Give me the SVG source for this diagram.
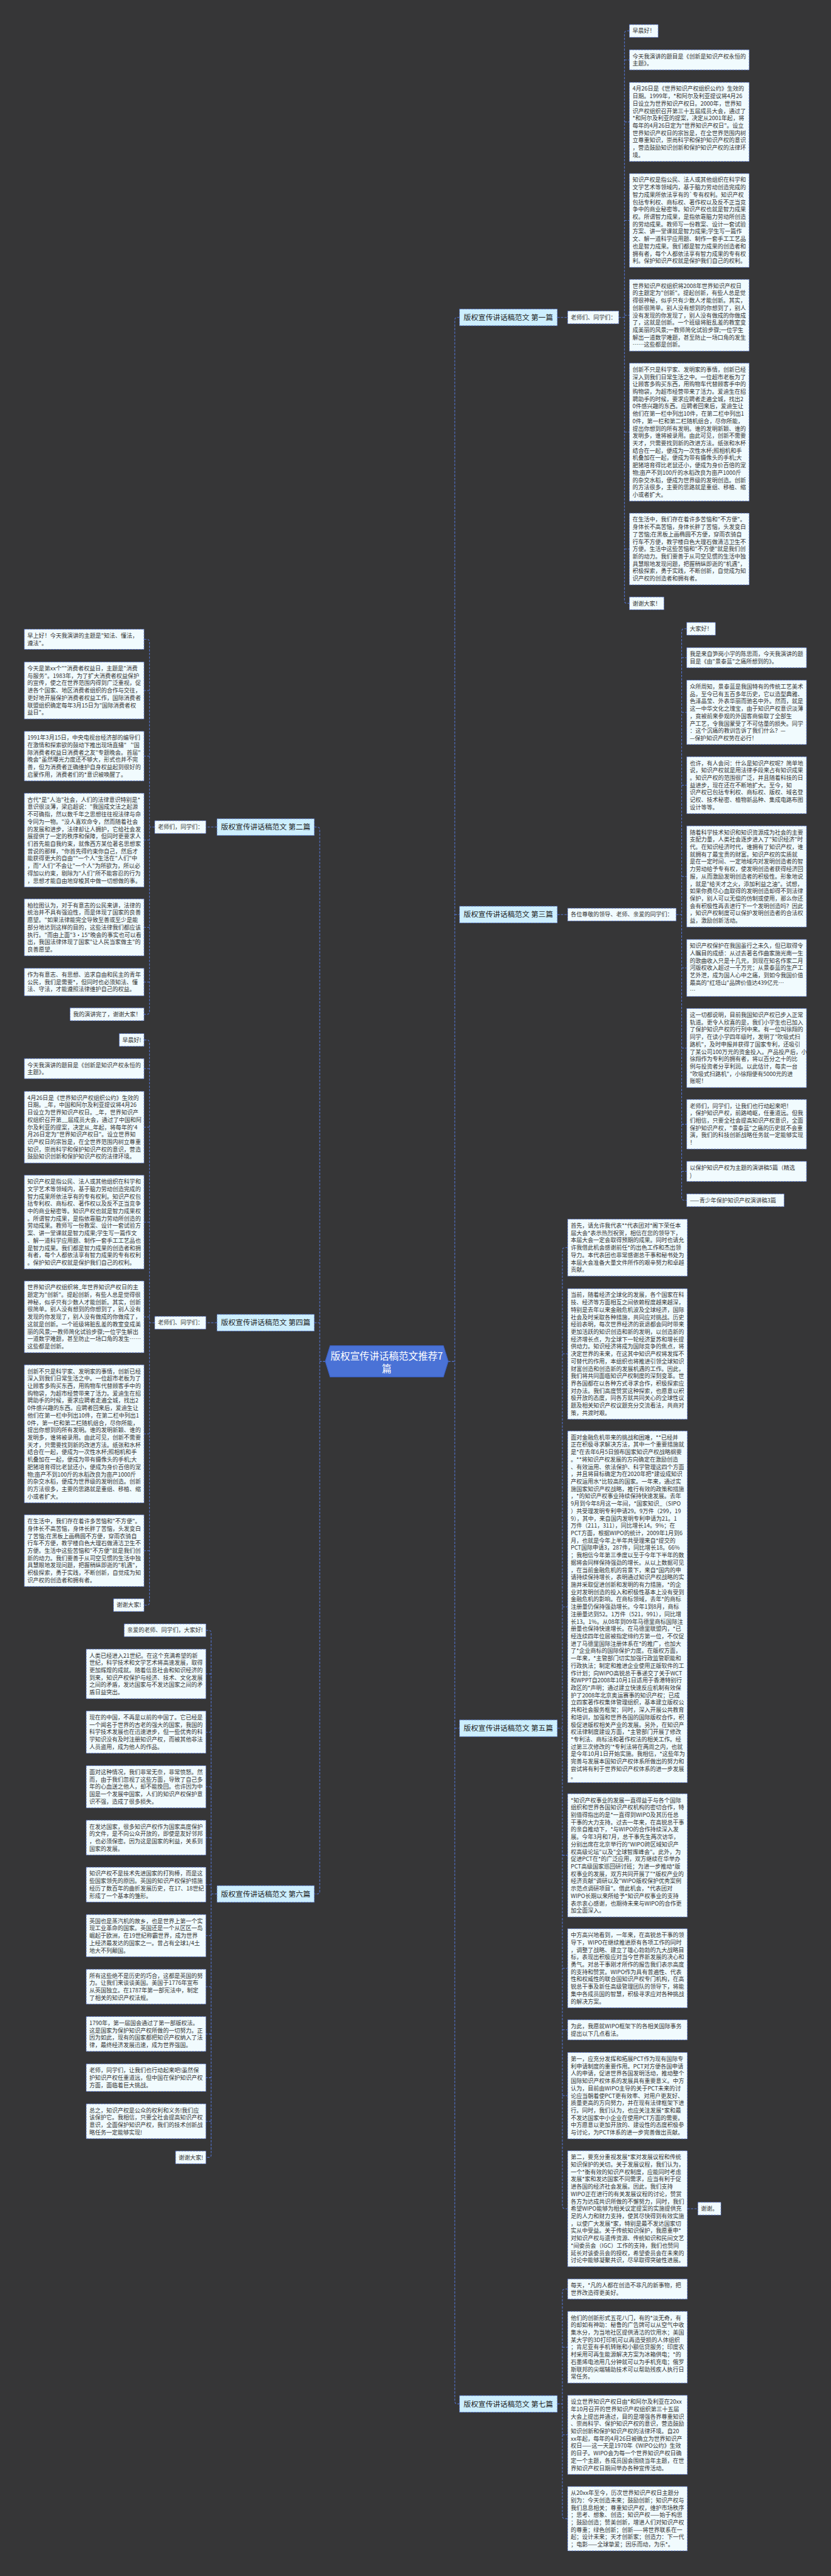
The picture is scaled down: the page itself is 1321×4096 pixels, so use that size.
<svg xmlns="http://www.w3.org/2000/svg" width="1321" height="4096" viewBox="0 0 1321 4096">
<style>
.bx{fill:#f1fbfe;stroke:#4f6fd0;stroke-width:1.6;stroke-dasharray:6 3}
.lb{fill:#cdeffe;stroke:#4f6fd0;stroke-width:1.6;stroke-dasharray:6 3}
.t{font-family:"Noto Sans CJK SC","Noto Sans",sans-serif;font-size:17.5px;fill:#333}
.lt{font-family:"Noto Sans CJK SC","Noto Sans",sans-serif;font-size:22.5px;fill:#222;text-anchor:middle}
.ct{font-family:"Noto Sans CJK SC","Noto Sans",sans-serif;font-size:30px;fill:#fff;text-anchor:middle}
.cn{fill:none;stroke:#5577d8;stroke-width:2;stroke-dasharray:7 4}
</style>
<rect width="1321" height="4096" fill="#363637"/>
<g transform="scale(0.516)">
<g id="connectors" class="cn">
<path d="M1381,4195H1401M1415.6,978H1409Q1401,978 1401,986V7400Q1401,7407.7 1409,7407.7H1415.6M1401,2818.3H1415.6M1401,5325.7H1415.6"/>
<path d="M1002,4195H985M968.3,2548.6H977Q985,2548.6 985,2556.6V5828Q985,5836.3 977,5836.3H968.3M968.3,4076H985"/>
<path d="M1717,978H1748.8M1906.3,978H1923.8M1939,95.1H1931.8Q1923.8,95.1 1923.8,103.1V1851.2Q1923.8,1859.2 1931.8,1859.2H1939M1923.8,184.4H1939M1923.8,375.7H1939M1923.8,679.3H1939M1923.8,971.5H1939M1923.8,1331.6H1939M1923.8,1691.8H1939"/>
<path d="M1717,2818.3H1748.8M2083,2818.3H2100M2115.6,1937.6H2108Q2100,1937.6 2100,1945.6V3690.6Q2100,3698.6 2108,3698.6H2115.6M2100,2026.8H2115.6M2100,2195.1H2115.6M2100,2419.5H2115.6M2100,2700.9H2115.6M2100,2982.7H2115.6M2100,3229.5H2115.6M2100,3464.4H2115.6M2100,3609.7H2115.6"/>
<path d="M1717,5325.7H1732.5M1748.8,3844.6H1740.5Q1732.5,3844.6 1732.5,3852.6V6798.1Q1732.5,6806.1 1740.5,6806.1H1748.8M1732.5,4172.2H1748.8M1732.5,4951.4H1748.8M1732.5,5717.3H1748.8M1732.5,6065.2H1748.8M1732.5,6255H1748.8M1732.5,6457.8H1748.8M2117.5,6806.1H2150"/>
<path d="M1717,7407.7H1732.5M1748.8,7053.8H1740.5Q1732.5,7053.8 1732.5,7061.8V7753.4Q1732.5,7761.4 1740.5,7761.4H1748.8M1732.5,7232.9H1748.8M1732.5,7503H1748.8"/>
<path d="M668.5,2548.6H634.3M476.7,2548.6H460.5M443.7,1970H452.5Q460.5,1970 460.5,1978V3117.7Q460.5,3125.7 452.5,3125.7H443.7M460.5,2127.7H443.7M460.5,2330H443.7M460.5,2588.8H443.7M460.5,2857.7H443.7M460.5,3026.2H443.7"/>
<path d="M668.5,4076H634.3M476.7,4076H460.5M443.7,3204.7H452.5Q460.5,3204.7 460.5,3212.7V4938.2Q460.5,4946.2 452.5,4946.2H443.7M460.5,3293H443.7M460.5,3473.5H443.7M460.5,3766H443.7M460.5,4058H443.7M460.5,4418.4H443.7M460.5,4778.5H443.7"/>
<path d="M668.5,5836.3H650.5M634.3,5023.7H642.5Q650.5,5023.7 650.5,5031.7V6640Q650.5,6648 642.5,6648H634.3M650.5,5158.2H634.3M650.5,5337.6H634.3M650.5,5506H634.3M650.5,5662.7H634.3M650.5,5807.6H634.3M650.5,5964.8H634.3M650.5,6122H634.3M650.5,6267.7H634.3M650.5,6402.4H634.3M650.5,6536.7H634.3"/>
</g>
<g id="center">
<polygon points="1017,4147 1366,4147 1381,4195 1366,4243 1017,4243 1002,4195" fill="#4a72d6" stroke="#3a5fc4" stroke-width="2"/>
<text class="ct" x="1191.5" y="4189">版权宣传讲话稿范文推荐7</text>
<text class="ct" x="1191.5" y="4228">篇</text>
</g>
<g id="p1"><rect class="lb" x="1415.6" y="952.3" width="301.3" height="51.4"/><text class="lt" x="1566" y="986.1">版权宣传讲话稿范文 第一篇</text></g>
<g id="p1s"><rect class="bx" x="1748.8" y="958.4" width="157.5" height="39.3"/><text class="t" x="1758.3" y="984.3">老师们、同学们：</text></g>
<g id="p1b1"><rect class="bx" x="1939" y="75.7" width="88.5" height="39.3"/><text class="t" x="1948.5" y="101.7">早晨好！</text></g>
<g id="p1b2"><rect class="bx" x="1939" y="153.4" width="369" height="62"/><text class="t" x="1948.5" y="179.4"><tspan x="1948.5">今天我演讲的题目是《创新是知识产权永恒的</tspan><tspan x="1948.5" dy="22.7">主题》。</tspan></text></g>
<g id="p1b3"><rect class="bx" x="1939" y="253.9" width="369" height="243.6"/><text class="t" x="1948.5" y="279.9"><tspan x="1948.5">4月26日是《世界知识产权组织公约》生效的</tspan><tspan x="1948.5" dy="22.7">日期。1999年，*和阿尔及利亚提议将4月26</tspan><tspan x="1948.5" dy="22.7">日设立为世界知识产权日。2000年，世界知</tspan><tspan x="1948.5" dy="22.7">识产权组织召开第三十五届成员大会，通过了</tspan><tspan x="1948.5" dy="22.7">*和阿尔及利亚的提案，决定从2001年起，将</tspan><tspan x="1948.5" dy="22.7">每年的4月26日定为"世界知识产权日"。设立</tspan><tspan x="1948.5" dy="22.7">世界知识产权日的宗旨是，在全世界范围内树</tspan><tspan x="1948.5" dy="22.7">立尊重知识，崇尚科学和保护知识产权的意识</tspan><tspan x="1948.5" dy="22.7">，营造鼓励知识创新和保护知识产权的法律环</tspan><tspan x="1948.5" dy="22.7">境。</tspan></text></g>
<g id="p1b4"><rect class="bx" x="1939" y="534.8" width="369" height="289"/><text class="t" x="1948.5" y="560.8"><tspan x="1948.5">知识产权是指公民、法人或其他组织在科学和</tspan><tspan x="1948.5" dy="22.7">文学艺术等领域内，基于脑力劳动创造完成的</tspan><tspan x="1948.5" dy="22.7">智力成果所依法享有的`专有权利。知识产权</tspan><tspan x="1948.5" dy="22.7">包括专利权、商标权、著作权以及反不正当竞</tspan><tspan x="1948.5" dy="22.7">争中的商业秘密等。知识产权也就是智力成果</tspan><tspan x="1948.5" dy="22.7">权。所谓智力成果，是指依靠脑力劳动所创造</tspan><tspan x="1948.5" dy="22.7">的劳动成果。教师写一份教案、设计一套试验</tspan><tspan x="1948.5" dy="22.7">方案、讲一堂课就是智力成果;学生写一篇作</tspan><tspan x="1948.5" dy="22.7">文、解一道科学应用题、制作一套手工工艺品</tspan><tspan x="1948.5" dy="22.7">也是智力成果。我们都是智力成果的创造者和</tspan><tspan x="1948.5" dy="22.7">拥有者，每个人都依法享有智力成果的专有权</tspan><tspan x="1948.5" dy="22.7">利。保护知识产权就是保护我们自己的权利。</tspan></text></g>
<g id="p1b5"><rect class="bx" x="1939" y="861" width="369" height="220.9"/><text class="t" x="1948.5" y="887"><tspan x="1948.5">世界知识产权组织将2008年世界知识产权日</tspan><tspan x="1948.5" dy="22.7">的主题定为"创新"。提起创新，有些人总是觉</tspan><tspan x="1948.5" dy="22.7">得很神秘，似乎只有少数人才能创新。其实，</tspan><tspan x="1948.5" dy="22.7">创新很简单。别人没有想到的你想到了，别人</tspan><tspan x="1948.5" dy="22.7">没有发现的你发现了，别人没有做成的你做成</tspan><tspan x="1948.5" dy="22.7">了，这就是创新。一个班级将脏乱差的教室变</tspan><tspan x="1948.5" dy="22.7">成美丽的风景;一教师简化试验步骤;一位学生</tspan><tspan x="1948.5" dy="22.7">解出一道数学难题，甚至防止一场口角的发生</tspan><tspan x="1948.5" dy="22.7">……这些都是创新。</tspan></text></g>
<g id="p1b6"><rect class="bx" x="1939" y="1119" width="369" height="425.2"/><text class="t" x="1948.5" y="1145"><tspan x="1948.5">创新不只是科学家、发明家的事情，创新已经</tspan><tspan x="1948.5" dy="22.7">深入到我们日常生活之中。一位超市老板为了</tspan><tspan x="1948.5" dy="22.7">让顾客多购买东西，用购物车代替顾客手中的</tspan><tspan x="1948.5" dy="22.7">购物袋，为超市经营带来了活力。爱迪生在招</tspan><tspan x="1948.5" dy="22.7">聘助手的时候，要求应聘者走遍全城，找出2</tspan><tspan x="1948.5" dy="22.7">0件感兴趣的东西。应聘者回来后，爱迪生让</tspan><tspan x="1948.5" dy="22.7">他们在第一栏中列出10件，在第二栏中列出1</tspan><tspan x="1948.5" dy="22.7">0件，第一栏和第二栏随机组合，尽你所能，</tspan><tspan x="1948.5" dy="22.7">提出你想到的所有发明。谁的发明新颖、谁的</tspan><tspan x="1948.5" dy="22.7">发明多，谁将被录用。由此可见，创新不需要</tspan><tspan x="1948.5" dy="22.7">天才，只需要找到新的改进方法。纸张和水杯</tspan><tspan x="1948.5" dy="22.7">结合在一起，便成为一次性水杯;照相机和手</tspan><tspan x="1948.5" dy="22.7">机叠加在一起，便成为带有摄像头的手机;大</tspan><tspan x="1948.5" dy="22.7">肥猪培育得比老鼠还小，便成为身价百倍的宠</tspan><tspan x="1948.5" dy="22.7">物;亩产不到100斤的水稻改良为亩产1000斤</tspan><tspan x="1948.5" dy="22.7">的杂交水稻，便成为世界级的发明创造。创新</tspan><tspan x="1948.5" dy="22.7">的方法很多，主要的思路就是重组、移植、缩</tspan><tspan x="1948.5" dy="22.7">小或者扩大。</tspan></text></g>
<g id="p1b7"><rect class="bx" x="1939" y="1581.4" width="369" height="220.9"/><text class="t" x="1948.5" y="1607.4"><tspan x="1948.5">在生活中，我们存在着许多苦恼和"不方便"。</tspan><tspan x="1948.5" dy="22.7">身体长不高苦恼，身体长胖了苦恼，头发变白</tspan><tspan x="1948.5" dy="22.7">了苦恼;在黑板上画椭圆不方便，穿雨衣骑自</tspan><tspan x="1948.5" dy="22.7">行车不方便，教学楼白色大理石做清洁卫生不</tspan><tspan x="1948.5" dy="22.7">方便。生活中这些苦恼和"不方便"就是我们创</tspan><tspan x="1948.5" dy="22.7">新的动力。我们要善于从司空见惯的生活中独</tspan><tspan x="1948.5" dy="22.7">具慧眼地发现问题，把握稍纵即逝的"机遇"，</tspan><tspan x="1948.5" dy="22.7">积极探索，勇于实践，不断创新，自觉成为知</tspan><tspan x="1948.5" dy="22.7">识产权的创造者和拥有者。</tspan></text></g>
<g id="p1b8"><rect class="bx" x="1939" y="1839.6" width="106.5" height="39.3"/><text class="t" x="1948.5" y="1865.6">谢谢大家！</text></g>
<g id="p3"><rect class="lb" x="1415.6" y="2792.6" width="301.3" height="51.4"/><text class="lt" x="1566" y="2826.4">版权宣传讲话稿范文 第三篇</text></g>
<g id="p3s"><rect class="bx" x="1748.8" y="2798.7" width="334.2" height="39.3"/><text class="t" x="1758.3" y="2824.6">各位尊敬的领导、老师、亲爱的同学们：</text></g>
<g id="p3b1"><rect class="bx" x="2115.6" y="1918" width="88.5" height="39.3"/><text class="t" x="2125.1" y="1944">大家好！</text></g>
<g id="p3b2"><rect class="bx" x="2115.6" y="1995.8" width="369" height="62"/><text class="t" x="2125.1" y="2021.8"><tspan x="2125.1">我是来自笋岗小学的陈思雨，今天我演讲的题</tspan><tspan x="2125.1" dy="22.7">目是《由"景泰蓝"之痛所想到的》。</tspan></text></g>
<g id="p3b3"><rect class="bx" x="2115.6" y="2096" width="369" height="198.2"/><text class="t" x="2125.1" y="2122"><tspan x="2125.1">众所周知，景泰蓝是我国特有的传统工艺美术</tspan><tspan x="2125.1" dy="22.7">品，至今已有五百多年历史，它以造型典雅、</tspan><tspan x="2125.1" dy="22.7">色泽晶莹、外表华丽而驰名中外。然而，就是</tspan><tspan x="2125.1" dy="22.7">这一中华文化之瑰宝，由于知识产权意识淡薄</tspan><tspan x="2125.1" dy="22.7">，竟被前来参观的外国客商偷取了全部生</tspan><tspan x="2125.1" dy="22.7">产工艺，令我国蒙受了不可估量的损失。同学</tspan><tspan x="2125.1" dy="22.7">：这个沉痛的教训告诉了我们什么？—</tspan><tspan x="2125.1" dy="22.7">—保护知识产权势在必行！</tspan></text></g>
<g id="p3b4"><rect class="bx" x="2115.6" y="2331.8" width="369" height="175.5"/><text class="t" x="2125.1" y="2357.8"><tspan x="2125.1">也许，有人会问：什么是知识产权呢？简单地</tspan><tspan x="2125.1" dy="22.7">说，知识产权就是用法律手段来占有知识成果</tspan><tspan x="2125.1" dy="22.7">。知识产权的范围很广泛，并且随着科技的日</tspan><tspan x="2125.1" dy="22.7">益进步，现在还在不断地扩大。至今，知</tspan><tspan x="2125.1" dy="22.7">识产权已包括专利权、商标权、版权、域名登</tspan><tspan x="2125.1" dy="22.7">记权、技术秘密、植物新品种、集成电路布图</tspan><tspan x="2125.1" dy="22.7">设计等等。</tspan></text></g>
<g id="p3b5"><rect class="bx" x="2115.6" y="2545" width="369" height="311.7"/><text class="t" x="2125.1" y="2571"><tspan x="2125.1">随着科学技术知识和知识资源成为社会的主要</tspan><tspan x="2125.1" dy="22.7">支配力量，人类社会逐步进入了"知识经济"时</tspan><tspan x="2125.1" dy="22.7">代。在知识经济时代，谁拥有了知识产权，谁</tspan><tspan x="2125.1" dy="22.7">就拥有了最宝贵的财富。知识产权的实质就</tspan><tspan x="2125.1" dy="22.7">是在一定时间、一定地域内对发明创造者的智</tspan><tspan x="2125.1" dy="22.7">力劳动给予专有权，使发明创造者获得经济回</tspan><tspan x="2125.1" dy="22.7">报，从而激励发明创造者的积极性。形象地说</tspan><tspan x="2125.1" dy="22.7">，就是"给天才之火，添加利益之油"。试想，</tspan><tspan x="2125.1" dy="22.7">如果你费尽心血取得的发明创造却得不到法律</tspan><tspan x="2125.1" dy="22.7">保护，别人可以无偿的仿制或使用，那么你还</tspan><tspan x="2125.1" dy="22.7">会有积极性再去进行下一个发明创造吗？因此</tspan><tspan x="2125.1" dy="22.7">，知识产权制度可以保护发明创造者的合法权</tspan><tspan x="2125.1" dy="22.7">益，激励创新活动。</tspan></text></g>
<g id="p3b6"><rect class="bx" x="2115.6" y="2895" width="369" height="175.5"/><text class="t" x="2125.1" y="2921"><tspan x="2125.1">知识产权保护在我国虽行之未久，但已取得令</tspan><tspan x="2125.1" dy="22.7">人瞩目的成绩：从过去著名作曲家施光南一生</tspan><tspan x="2125.1" dy="22.7">的歌曲收入只是十几元，到现在知名作家二月</tspan><tspan x="2125.1" dy="22.7">河版权收入超过一千万元；从景泰蓝的生产工</tspan><tspan x="2125.1" dy="22.7">艺外泄，成为国人心中之痛，到如今我国价值</tspan><tspan x="2125.1" dy="22.7">最高的"红塔山"品牌价值达439亿元…</tspan><tspan x="2125.1" dy="22.7">…</tspan></text></g>
<g id="p3b7"><rect class="bx" x="2115.6" y="3107.7" width="369" height="243.6"/><text class="t" x="2125.1" y="3133.7"><tspan x="2125.1">这一切都说明，目前我国知识产权已步入正常</tspan><tspan x="2125.1" dy="22.7">轨道。更令人欣喜的是，我们小学生也已加入</tspan><tspan x="2125.1" dy="22.7">了保护知识产权的行列中来。有一位叫徐翔的</tspan><tspan x="2125.1" dy="22.7">同学，在读小学四年级时，发明了"吹吸式扫</tspan><tspan x="2125.1" dy="22.7">路机"，及时申报并获得了国家专利，还吸引</tspan><tspan x="2125.1" dy="22.7">了某公司100万元的资金投入。产品投产后，小</tspan><tspan x="2125.1" dy="22.7">徐翔作为专利的拥有者，将以百分之十的比</tspan><tspan x="2125.1" dy="22.7">例与投资者分享利润。以此估计，每卖一台</tspan><tspan x="2125.1" dy="22.7">"吹吸式扫路机"，小徐翔便有5000元的进</tspan><tspan x="2125.1" dy="22.7">账呢！</tspan></text></g>
<g id="p3b8"><rect class="bx" x="2115.6" y="3388" width="369" height="152.8"/><text class="t" x="2125.1" y="3414"><tspan x="2125.1">老师们，同学们，让我们也行动起来吧！</tspan><tspan x="2125.1" dy="22.7">，保护知识产权，前路崎岖，任重道远。但我</tspan><tspan x="2125.1" dy="22.7">们相信，只要全社会提高知识产权意识，全面</tspan><tspan x="2125.1" dy="22.7">保护知识产权，"景泰蓝"之痛的历史就不会重</tspan><tspan x="2125.1" dy="22.7">演，我们的科技创新战略任务就一定能够实现</tspan><tspan x="2125.1" dy="22.7">！</tspan></text></g>
<g id="p3b9"><rect class="bx" x="2115.6" y="3578.7" width="369" height="62"/><text class="t" x="2125.1" y="3604.7"><tspan x="2125.1">以保护知识产权为主题的演讲稿5篇（精选</tspan><tspan x="2125.1" dy="22.7">)</tspan></text></g>
<g id="p3b10"><rect class="bx" x="2115.6" y="3679" width="300" height="39.3"/><text class="t" x="2125.1" y="3705">——青少年保护知识产权演讲稿3篇</text></g>
<g id="p5"><rect class="lb" x="1415.6" y="5300" width="301.3" height="51.4"/><text class="lt" x="1566" y="5333.8">版权宣传讲话稿范文 第五篇</text></g>
<g id="p5b1"><rect class="bx" x="1748.8" y="3756.9" width="368.7" height="175.5"/><text class="t" x="1758.3" y="3782.9"><tspan x="1758.3">首先，请允许我代表**代表团对*阁下荣任本</tspan><tspan x="1758.3" dy="22.7">届大会*表示热烈祝贺，相信在您的领导下，</tspan><tspan x="1758.3" dy="22.7">本届大会一定会取得预期的成果。同时也请允</tspan><tspan x="1758.3" dy="22.7">许我借此机会感谢前任*的出色工作和杰出领</tspan><tspan x="1758.3" dy="22.7">导力。本代表团也非常感谢总干事和秘书处为</tspan><tspan x="1758.3" dy="22.7">本届大会准备大量文件所作的艰辛努力和卓越</tspan><tspan x="1758.3" dy="22.7">贡献。</tspan></text></g>
<g id="p5b2"><rect class="bx" x="1748.8" y="3971" width="368.7" height="402.5"/><text class="t" x="1758.3" y="3997"><tspan x="1758.3">当前，随着经济全球化的发展，各个国家在科</tspan><tspan x="1758.3" dy="22.7">技、经济等方面相互之间依赖程度越来越深，</tspan><tspan x="1758.3" dy="22.7">特别是去年以来金融危机波及全球经济，国际</tspan><tspan x="1758.3" dy="22.7">社会及时采取各种措施，共同应对挑战。历史</tspan><tspan x="1758.3" dy="22.7">经验表明，每次世界经济的衰退都会同时带来</tspan><tspan x="1758.3" dy="22.7">更加活跃的知识创造和新的发明，以创造新的</tspan><tspan x="1758.3" dy="22.7">经济增长点，为全球下一轮经济复苏和增长提</tspan><tspan x="1758.3" dy="22.7">供动力。知识经济将成为国际竞争的焦点，将</tspan><tspan x="1758.3" dy="22.7">决定世界的未来，在这其中知识产权将发挥不</tspan><tspan x="1758.3" dy="22.7">可替代的作用，本组织也将推进引领全球知识</tspan><tspan x="1758.3" dy="22.7">财富创造和创造新的发展机遇的工作。因此，</tspan><tspan x="1758.3" dy="22.7">我们将共同面临知识产权制度的深刻变革。世</tspan><tspan x="1758.3" dy="22.7">界各国都在以各种方式寻求合作，积极探索应</tspan><tspan x="1758.3" dy="22.7">对办法。我们高度赞赏这种探索，也愿意以积</tspan><tspan x="1758.3" dy="22.7">极开放的态度，同各方就共同关心的全球性议</tspan><tspan x="1758.3" dy="22.7">题及相关知识产权议题充分交流看法，共商对</tspan><tspan x="1758.3" dy="22.7">策，共渡时艰。</tspan></text></g>
<g id="p5b3"><rect class="bx" x="1748.8" y="4409.6" width="368.7" height="1083.5"/><text class="t" x="1758.3" y="4435.6"><tspan x="1758.3">面对金融危机带来的挑战和困难，**已经并</tspan><tspan x="1758.3" dy="22.7">正在积极寻求解决方法，其中一个重要措施就</tspan><tspan x="1758.3" dy="22.7">是*在去年6月5日颁布国家知识产权战略纲要</tspan><tspan x="1758.3" dy="22.7">。**将知识产权发展的方向确定在激励创造</tspan><tspan x="1758.3" dy="22.7">、有效运用、依法保护、科学管理这四个方面</tspan><tspan x="1758.3" dy="22.7">，并且将目标确定为在2020年把*建设成知识</tspan><tspan x="1758.3" dy="22.7">产权运用水*比较高的国家。一年来，通过实</tspan><tspan x="1758.3" dy="22.7">施国家知识产权战略，推行有效的政策和措施</tspan><tspan x="1758.3" dy="22.7">，*的知识产权事业持续保持快速发展。去年</tspan><tspan x="1758.3" dy="22.7">9月到今年8月这一年间，*国家知识_（SIPO</tspan><tspan x="1758.3" dy="22.7">）共受理发明专利申请29。9万件（299，19</tspan><tspan x="1758.3" dy="22.7">9），其中，来自国内发明专利申请为21。1</tspan><tspan x="1758.3" dy="22.7">万件（211，311），同比增长14。9%；在</tspan><tspan x="1758.3" dy="22.7">PCT方面，根据WIPO的统计，2009年1月到6</tspan><tspan x="1758.3" dy="22.7">月，也就是今年上半年共受理来自*提交的</tspan><tspan x="1758.3" dy="22.7">PCT国际申请3，287件，同比增长18。66%</tspan><tspan x="1758.3" dy="22.7">；我相信今年第三季度以至于今年下半年的数</tspan><tspan x="1758.3" dy="22.7">据将会同样保持强劲的增长。从以上数据可见</tspan><tspan x="1758.3" dy="22.7">，在当前金融危机的背景下，来自*国内的申</tspan><tspan x="1758.3" dy="22.7">请持续保持增长，表明通过知识产权战略的实</tspan><tspan x="1758.3" dy="22.7">施并采取促进创新和发明的有力措施，*的企</tspan><tspan x="1758.3" dy="22.7">业对发明创造的投入和积极性基本上没有受到</tspan><tspan x="1758.3" dy="22.7">金融危机的影响。在商标领域，去年*的商标</tspan><tspan x="1758.3" dy="22.7">注册量仍保持强劲增长。今年1到8月，商标</tspan><tspan x="1758.3" dy="22.7">注册量达到52。1万件（521，991），同比增</tspan><tspan x="1758.3" dy="22.7">长13。1%。从08年到09年马德里商标国际注</tspan><tspan x="1758.3" dy="22.7">册量也保持快速增长。在马德里联盟内，*已</tspan><tspan x="1758.3" dy="22.7">经连续四年位居被指定缔约方第一位，不仅促</tspan><tspan x="1758.3" dy="22.7">进了马德里国际注册体系在*的推广，也加大</tspan><tspan x="1758.3" dy="22.7">了*企业商标的国际保护力度。在版权方面，</tspan><tspan x="1758.3" dy="22.7">一年来，*主管部门切实加强行政监管职能和</tspan><tspan x="1758.3" dy="22.7">行政执法；制定和推进企业使用正版软件的工</tspan><tspan x="1758.3" dy="22.7">作计划；向WIPO高锐总干事递交了关于WCT</tspan><tspan x="1758.3" dy="22.7">和WPPT自2008年10月1日适用于香港特别行</tspan><tspan x="1758.3" dy="22.7">政区的*声明；通过建立快速反应机制有效保</tspan><tspan x="1758.3" dy="22.7">护了2008年北京奥运赛事的知识产权；已成</tspan><tspan x="1758.3" dy="22.7">立四家著作权集体管理组织，基本建立版权公</tspan><tspan x="1758.3" dy="22.7">共和社会服务框架；同时，深入开展公共教育</tspan><tspan x="1758.3" dy="22.7">和培训，加强和世界各国的国际版权合作，积</tspan><tspan x="1758.3" dy="22.7">极促进版权相关产业的发展。另外，在知识产</tspan><tspan x="1758.3" dy="22.7">权法律制度建设方面，*主管部门开展了修改</tspan><tspan x="1758.3" dy="22.7">*专利法、商标法和著作权法的相关工作。经</tspan><tspan x="1758.3" dy="22.7">过第三次修改的'*专利法将在两周之内，也就</tspan><tspan x="1758.3" dy="22.7">是今年10月1日开始实施。我相信，*这些年为</tspan><tspan x="1758.3" dy="22.7">完善与发展本国知识产权体系所做出的努力和</tspan><tspan x="1758.3" dy="22.7">尝试将有利于世界知识产权体系的进一步发展</tspan><tspan x="1758.3" dy="22.7">。</tspan></text></g>
<g id="p5b4"><rect class="bx" x="1748.8" y="5527.4" width="368.7" height="379.8"/><text class="t" x="1758.3" y="5553.4"><tspan x="1758.3">*知识产权事业的发展一直得益于与各个国际</tspan><tspan x="1758.3" dy="22.7">组织和世界各国知识产权机构的密切合作，特</tspan><tspan x="1758.3" dy="22.7">别值得指出的是*一直得到WIPO及其历任总</tspan><tspan x="1758.3" dy="22.7">干事的大力支持。过去一年来，在高锐总干事</tspan><tspan x="1758.3" dy="22.7">的亲自推动下，*与WIPO的合作持续深入发</tspan><tspan x="1758.3" dy="22.7">展。今年3月和7月，总干事先生两次访华，</tspan><tspan x="1758.3" dy="22.7">分别出席在北京举行的"WIPO跨区域知识产</tspan><tspan x="1758.3" dy="22.7">权高级论坛"以及"全球智库峰会"。此外，为</tspan><tspan x="1758.3" dy="22.7">促进PCT在*的广泛应用，双方继续在华举办</tspan><tspan x="1758.3" dy="22.7">PCT高级国家巡回研讨班；为进一步推动*版</tspan><tspan x="1758.3" dy="22.7">权事业的发展，双方共同开展了"*版权产业的</tspan><tspan x="1758.3" dy="22.7">经济贡献"调研以及"WIPO版权保护优秀案例</tspan><tspan x="1758.3" dy="22.7">示范点调研项目"。借此机会，*代表团对</tspan><tspan x="1758.3" dy="22.7">WIPO长期以来所给予*知识产权事业的支持</tspan><tspan x="1758.3" dy="22.7">表示衷心感谢，也期待未来与WIPO的合作更</tspan><tspan x="1758.3" dy="22.7">加全面深入。</tspan></text></g>
<g id="p5b5"><rect class="bx" x="1748.8" y="5943.4" width="368.7" height="243.6"/><text class="t" x="1758.3" y="5969.4"><tspan x="1758.3">中方高兴地看到，一年来，在高锐总干事的领</tspan><tspan x="1758.3" dy="22.7">导下，WIPO在继续推进原有各项工作的同时</tspan><tspan x="1758.3" dy="22.7">，调整了战略、建立了雄心勃勃的九大战略目</tspan><tspan x="1758.3" dy="22.7">标，表现出积极应对当今世界新发展的决心和</tspan><tspan x="1758.3" dy="22.7">勇气。对总干事刚才所作的报告我们表示高度</tspan><tspan x="1758.3" dy="22.7">的支持和赞赏。WIPO作为具有普遍性、代表</tspan><tspan x="1758.3" dy="22.7">性和权威性的联合国知识产权专门机构，在高</tspan><tspan x="1758.3" dy="22.7">锐总干事及新任高级管理团队的领导下，将能</tspan><tspan x="1758.3" dy="22.7">集中各成员国的智慧，积极寻求应对各种挑战</tspan><tspan x="1758.3" dy="22.7">的解决方案。</tspan></text></g>
<g id="p5b6"><rect class="bx" x="1748.8" y="6224" width="368.7" height="62"/><text class="t" x="1758.3" y="6250"><tspan x="1758.3">为此，我愿就WIPO框架下的各相关国际事务</tspan><tspan x="1758.3" dy="22.7">提出以下几点看法。</tspan></text></g>
<g id="p5b7"><rect class="bx" x="1748.8" y="6324.7" width="368.7" height="266.3"/><text class="t" x="1758.3" y="6350.7"><tspan x="1758.3">第一，应充分发挥和拓展PCT作为现有国际专</tspan><tspan x="1758.3" dy="22.7">利申请制度的重要作用。PCT对方便各国申请</tspan><tspan x="1758.3" dy="22.7">人的申请，促进世界各国发明活动，推动整个</tspan><tspan x="1758.3" dy="22.7">国际知识产权体系的发展具有重要意义。中方</tspan><tspan x="1758.3" dy="22.7">认为，目前由WIPO主导的关于PCT未来的讨</tspan><tspan x="1758.3" dy="22.7">论应当朝着使PCT更有效率、对用户更友好、</tspan><tspan x="1758.3" dy="22.7">质量更高的方向努力，并在现有法律框架下进</tspan><tspan x="1758.3" dy="22.7">行。同时，我们认为，也应关注发展*家和最</tspan><tspan x="1758.3" dy="22.7">不发达国家中小企业在使用PCT方面的需要。</tspan><tspan x="1758.3" dy="22.7">中方愿意以更加开放的、建设性的态度积极参</tspan><tspan x="1758.3" dy="22.7">与讨论，为PCT体系的进一步完善做出贡献。</tspan></text></g>
<g id="p5b8"><rect class="bx" x="1748.8" y="6627.6" width="368.7" height="357.1"/><text class="t" x="1758.3" y="6653.6"><tspan x="1758.3">第二，要充分重视发展*家对发展议程和传统</tspan><tspan x="1758.3" dy="22.7">知识保护的关切。关于发展议程，我们认为，</tspan><tspan x="1758.3" dy="22.7">一个*衡有效的知识产权制度，应能同时考虑</tspan><tspan x="1758.3" dy="22.7">发展*家和发达国家不同需求，应当有利于促</tspan><tspan x="1758.3" dy="22.7">进各国的经济社会发展。因此，我们支持</tspan><tspan x="1758.3" dy="22.7">WIPO正在进行的有关发展议程的讨论，赞赏</tspan><tspan x="1758.3" dy="22.7">各方为达成共识所做的不懈努力，同时，我们</tspan><tspan x="1758.3" dy="22.7">希望WIPO能够为相关议定提案的实施提供充</tspan><tspan x="1758.3" dy="22.7">足的人力和财力支持，使其尽快得到有效实施</tspan><tspan x="1758.3" dy="22.7">，以使广大发展*家，特别是最不发达国家切</tspan><tspan x="1758.3" dy="22.7">实从中受益。关于传统知识保护，我愿重申*</tspan><tspan x="1758.3" dy="22.7">对知识产权与遗传资源、传统知识和民间文艺</tspan><tspan x="1758.3" dy="22.7">*间委员会（IGC）工作的支持，我们也赞同</tspan><tspan x="1758.3" dy="22.7">延长对该委员会的授权，希望委员会在未来的</tspan><tspan x="1758.3" dy="22.7">讨论中能够凝聚共识，尽早取得突破性进展。</tspan></text></g>
<g id="p5b9"><rect class="bx" x="2150" y="6786.4" width="71" height="39.3"/><text class="t" x="2159.5" y="6812.4">谢谢。</text></g>
<g id="p7"><rect class="lb" x="1415.6" y="7382" width="301.3" height="51.4"/><text class="lt" x="1566" y="7415.8">版权宣传讲话稿范文 第七篇</text></g>
<g id="p7b1"><rect class="bx" x="1748.8" y="7022.8" width="368.7" height="62"/><text class="t" x="1758.3" y="7048.8"><tspan x="1758.3">每天，*凡的人都在创造不非凡的新事物，把</tspan><tspan x="1758.3" dy="22.7">世界改造得更美好。</tspan></text></g>
<g id="p7b2"><rect class="bx" x="1748.8" y="7122.5" width="368.7" height="220.9"/><text class="t" x="1758.3" y="7148.5"><tspan x="1758.3">他们的创新形式五花八门，有的*淡无奇，有</tspan><tspan x="1758.3" dy="22.7">的却如有神助：秘鲁的广告牌可以从空气中收</tspan><tspan x="1758.3" dy="22.7">集水分，为当地社区提供清洁的饮用水；美国</tspan><tspan x="1758.3" dy="22.7">某大学的3D打印机可以再造受损的人体组织</tspan><tspan x="1758.3" dy="22.7">；肯尼亚有手机转账和小额信贷服务；印度农</tspan><tspan x="1758.3" dy="22.7">村采用可再生能源解决方案为冰箱供电；*的</tspan><tspan x="1758.3" dy="22.7">石墨烯电池用几分钟就可以为手机充电；俄罗</tspan><tspan x="1758.3" dy="22.7">斯联邦的尖端辅助技术可以帮助残疾人执行日</tspan><tspan x="1758.3" dy="22.7">常任务。</tspan></text></g>
<g id="p7b3"><rect class="bx" x="1748.8" y="7381.2" width="368.7" height="243.6"/><text class="t" x="1758.3" y="7407.2"><tspan x="1758.3">设立世界知识产权日由*和阿尔及利亚在20xx</tspan><tspan x="1758.3" dy="22.7">年10月召开的世界知识产权组织第三十五届</tspan><tspan x="1758.3" dy="22.7">大会上提出并通过，目的是增强各界尊重知识</tspan><tspan x="1758.3" dy="22.7">、崇尚科学、保护知识产权的意识，营造鼓励</tspan><tspan x="1758.3" dy="22.7">知识创新和保护知识产权的法律环境。自20</tspan><tspan x="1758.3" dy="22.7">xx年起，每年的4月26日被确立为世界知识产</tspan><tspan x="1758.3" dy="22.7">权日——这一天是1970年《WIPO公约》生效</tspan><tspan x="1758.3" dy="22.7">的日子。WIPO会为每一个世界知识产权日确</tspan><tspan x="1758.3" dy="22.7">定一个主题，各成员国会围绕当年主题，在世</tspan><tspan x="1758.3" dy="22.7">界知识产权日期间举办各种宣传活动。</tspan></text></g>
<g id="p7b4"><rect class="bx" x="1748.8" y="7662.3" width="368.7" height="198.2"/><text class="t" x="1758.3" y="7688.3"><tspan x="1758.3">从20xx年至今，历次世界知识产权日主题分</tspan><tspan x="1758.3" dy="22.7">别为：今天创造未来；鼓励创新；知识产权与</tspan><tspan x="1758.3" dy="22.7">我们息息相关；尊重知识产权，维护市场秩序</tspan><tspan x="1758.3" dy="22.7">；思考、想象、创造；知识产权——始于构思</tspan><tspan x="1758.3" dy="22.7">；鼓励创造；赞美创新，增进人们对知识产权</tspan><tspan x="1758.3" dy="22.7">的尊重；绿色创新；创新——将世界联系在一</tspan><tspan x="1758.3" dy="22.7">起；设计未来；天才创新家；创造力：下一代</tspan><tspan x="1758.3" dy="22.7">；电影——全球挚爱；因乐而动，为乐*。</tspan></text></g>
<g id="p2"><rect class="lb" x="668.5" y="2523" width="299.8" height="51.4"/><text class="lt" x="818.4" y="2556.8">版权宣传讲话稿范文 第二篇</text></g>
<g id="p2s"><rect class="bx" x="476.7" y="2529" width="157.6" height="39.3"/><text class="t" x="486.2" y="2554.9">老师们，同学们：</text></g>
<g id="p2b1"><rect class="bx" x="75" y="1939" width="368.7" height="62"/><text class="t" x="84.5" y="1965"><tspan x="84.5">早上好！今天我演讲的主题是"知法、懂法，</tspan><tspan x="84.5" dy="22.7">遵法"。</tspan></text></g>
<g id="p2b2"><rect class="bx" x="75" y="2040" width="368.7" height="175.5"/><text class="t" x="84.5" y="2066"><tspan x="84.5">今天是第xx个""消费者权益日，主题是"消费</tspan><tspan x="84.5" dy="22.7">与服务"。1983年，为了扩大消费者权益保护</tspan><tspan x="84.5" dy="22.7">的宣传，使之在世界范围内得到广泛重视，促</tspan><tspan x="84.5" dy="22.7">进各个国家、地区消费者组织的合作与交往，</tspan><tspan x="84.5" dy="22.7">更好地开展保护消费者权益工作，国际消费者</tspan><tspan x="84.5" dy="22.7">联盟组织确定每年3月15日为"国际消费者权</tspan><tspan x="84.5" dy="22.7">益日"。</tspan></text></g>
<g id="p2b3"><rect class="bx" x="75" y="2253.6" width="368.7" height="152.8"/><text class="t" x="84.5" y="2279.6"><tspan x="84.5">1991年3月15日，中央电视台经济部的编导们</tspan><tspan x="84.5" dy="22.7">在激情和探索欲的鼓动下推出现场直播"‘'国</tspan><tspan x="84.5" dy="22.7">际消费者权益日消费者之友"专题晚会。首届"</tspan><tspan x="84.5" dy="22.7">晚会"虽然曝光力度还不够大，形式也并不完</tspan><tspan x="84.5" dy="22.7">善，但为消费者正确维护自身权益起到很好的</tspan><tspan x="84.5" dy="22.7">启蒙作用，消费者们的*意识被唤醒了。</tspan></text></g>
<g id="p2b4"><rect class="bx" x="75" y="2444.3" width="368.7" height="289"/><text class="t" x="84.5" y="2470.3"><tspan x="84.5">古代*是"人治"社会，人们的法律意识特别是*</tspan><tspan x="84.5" dy="22.7">意识很淡薄，梁启超说："我国成文法之起源</tspan><tspan x="84.5" dy="22.7">不可确指，然以数千年之思想往往视法律与命</tspan><tspan x="84.5" dy="22.7">令同为一物。"没人喜欢命令，然而随着社会</tspan><tspan x="84.5" dy="22.7">的发展和进步，法律却让人拥护，它给社会发</tspan><tspan x="84.5" dy="22.7">展提供了一定的秩序和保障，但同时更要求人</tspan><tspan x="84.5" dy="22.7">们首先能自我约束，就像西方某位著名思想家</tspan><tspan x="84.5" dy="22.7">曾说的那样，"你首先得约束你自己，然后才</tspan><tspan x="84.5" dy="22.7">能获得更大的自由""一个人"生活在"人们"中</tspan><tspan x="84.5" dy="22.7">，而"人们"不会让"一个人"为所欲为，所以必</tspan><tspan x="84.5" dy="22.7">得加以约束，剔除为"人们"所不能容忍的行为</tspan><tspan x="84.5" dy="22.7">，思想才能自由地穿梭其中做一切想做的事。</tspan></text></g>
<g id="p2b5"><rect class="bx" x="75" y="2770" width="368.7" height="175.5"/><text class="t" x="84.5" y="2796"><tspan x="84.5">柏拉图认为，对于有意志的公民来讲，法律的</tspan><tspan x="84.5" dy="22.7">统治并不具有强迫性，而是体现了国家的良善</tspan><tspan x="84.5" dy="22.7">愿望。"如果法律能完全导致至善或至少是能</tspan><tspan x="84.5" dy="22.7">部分地达到这样的目的，这些法律我们都应该</tspan><tspan x="84.5" dy="22.7">执行。"而由上面"3·15"晚会的事实也可以看</tspan><tspan x="84.5" dy="22.7">出，我国法律体现了国家"让人民当家做主"的</tspan><tspan x="84.5" dy="22.7">良善愿望。</tspan></text></g>
<g id="p2b6"><rect class="bx" x="75" y="2983.8" width="368.7" height="84.7"/><text class="t" x="84.5" y="3009.8"><tspan x="84.5">作为有意志、有思想、追求自由和民主的青年</tspan><tspan x="84.5" dy="22.7">公民，我们是需要*，但同时也必须知法、懂</tspan><tspan x="84.5" dy="22.7">法、守法，才能遵照法律维护自己的权益。</tspan></text></g>
<g id="p2b7"><rect class="bx" x="215.9" y="3106" width="227.8" height="39.3"/><text class="t" x="225.4" y="3132">我的演讲完了，谢谢大家！</text></g>
<g id="p4"><rect class="lb" x="668.5" y="4050.3" width="299.8" height="51.4"/><text class="lt" x="818.4" y="4084.1">版权宣传讲话稿范文 第四篇</text></g>
<g id="p4s"><rect class="bx" x="476.7" y="4056.4" width="157.6" height="39.3"/><text class="t" x="486.2" y="4082.3">老师们、同学们：</text></g>
<g id="p4b1"><rect class="bx" x="367.5" y="3185" width="76.2" height="39.3"/><text class="t" x="377" y="3211">早晨好!</text></g>
<g id="p4b2"><rect class="bx" x="75" y="3262" width="368.7" height="62"/><text class="t" x="84.5" y="3288"><tspan x="84.5">今天我演讲的题目是《创新是知识产权永恒的</tspan><tspan x="84.5" dy="22.7">主题》。</tspan></text></g>
<g id="p4b3"><rect class="bx" x="75" y="3363" width="368.7" height="220.9"/><text class="t" x="84.5" y="3389"><tspan x="84.5">4月26日是《世界知识产权组织公约》生效的</tspan><tspan x="84.5" dy="22.7">日期。_年，中国和阿尔及利亚提议将4月26</tspan><tspan x="84.5" dy="22.7">日设立为世界知识产权日。_年，世界知识产</tspan><tspan x="84.5" dy="22.7">权组织召开第__届成员大会，通过了中国和阿</tspan><tspan x="84.5" dy="22.7">尔及利亚的提案，决定从_年起，将每年的'4</tspan><tspan x="84.5" dy="22.7">月26日定为"世界知识产权日"。设立世界知</tspan><tspan x="84.5" dy="22.7">识产权日的宗旨是，在全世界范围内树立尊重</tspan><tspan x="84.5" dy="22.7">知识，崇尚科学和保护知识产权的意识，营造</tspan><tspan x="84.5" dy="22.7">鼓励知识创新和保护知识产权的法律环境。</tspan></text></g>
<g id="p4b4"><rect class="bx" x="75" y="3621.5" width="368.7" height="289"/><text class="t" x="84.5" y="3647.5"><tspan x="84.5">知识产权是指公民、法人或其他组织在科学和</tspan><tspan x="84.5" dy="22.7">文学艺术等领域内，基于脑力劳动创造完成的</tspan><tspan x="84.5" dy="22.7">智力成果所依法享有的专有权利。知识产权包</tspan><tspan x="84.5" dy="22.7">括专利权、商标权、著作权以及反不正当竞争</tspan><tspan x="84.5" dy="22.7">中的商业秘密等。知识产权也就是智力成果权</tspan><tspan x="84.5" dy="22.7">。所谓智力成果，是指依靠脑力劳动所创造的</tspan><tspan x="84.5" dy="22.7">劳动成果。教师写一份教案、设计一套试验方</tspan><tspan x="84.5" dy="22.7">案、讲一堂课就是智力成果;学生写一篇作文</tspan><tspan x="84.5" dy="22.7">、解一道科学应用题、制作一套手工工艺品也</tspan><tspan x="84.5" dy="22.7">是智力成果。我们都是智力成果的创造者和拥</tspan><tspan x="84.5" dy="22.7">有者，每个人都依法享有智力成果的专有权利</tspan><tspan x="84.5" dy="22.7">。保护知识产权就是保护我们自己的权利。</tspan></text></g>
<g id="p4b5"><rect class="bx" x="75" y="3947.5" width="368.7" height="220.9"/><text class="t" x="84.5" y="3973.5"><tspan x="84.5">世界知识产权组织将_年世界知识产权日的主</tspan><tspan x="84.5" dy="22.7">题定为"创新"。提起创新，有些人总是觉得很</tspan><tspan x="84.5" dy="22.7">神秘，似乎只有少数人才能创新。其实，创新</tspan><tspan x="84.5" dy="22.7">很简单。别人没有想到的你想到了，别人没有</tspan><tspan x="84.5" dy="22.7">发现的你发现了，别人没有做成的你做成了，</tspan><tspan x="84.5" dy="22.7">这就是创新。一个班级将脏乱差的教室变成美</tspan><tspan x="84.5" dy="22.7">丽的风景;一教师简化试验步骤;一位学生解出</tspan><tspan x="84.5" dy="22.7">一道数学难题，甚至防止一场口角的发生……</tspan><tspan x="84.5" dy="22.7">这些都是创新。</tspan></text></g>
<g id="p4b6"><rect class="bx" x="75" y="4205.8" width="368.7" height="425.2"/><text class="t" x="84.5" y="4231.8"><tspan x="84.5">创新不只是科学家、发明家的事情，创新已经</tspan><tspan x="84.5" dy="22.7">深入到我们日常生活之中。一位超市老板为了</tspan><tspan x="84.5" dy="22.7">让顾客多购买东西，用购物车代替顾客手中的</tspan><tspan x="84.5" dy="22.7">购物袋，为超市经营带来了活力。爱迪生在招</tspan><tspan x="84.5" dy="22.7">聘助手的时候，要求应聘者走遍全城，找出2</tspan><tspan x="84.5" dy="22.7">0件感兴趣的东西。应聘者回来后，爱迪生让</tspan><tspan x="84.5" dy="22.7">他们在第一栏中列出10件，在第二栏中列出1</tspan><tspan x="84.5" dy="22.7">0件，第一栏和第二栏随机组合，尽你所能，</tspan><tspan x="84.5" dy="22.7">提出你想到的所有发明。谁的发明新颖、谁的</tspan><tspan x="84.5" dy="22.7">发明多，谁将被录用。由此可见，创新不需要</tspan><tspan x="84.5" dy="22.7">天才，只需要找到新的改进方法。纸张和水杯</tspan><tspan x="84.5" dy="22.7">结合在一起，便成为一次性水杯;照相机和手</tspan><tspan x="84.5" dy="22.7">机叠加在一起，便成为带有摄像头的手机;大</tspan><tspan x="84.5" dy="22.7">肥猪培育得比老鼠还小，便成为身价百倍的宠</tspan><tspan x="84.5" dy="22.7">物;亩产不到100斤的水稻改良为亩产1000斤</tspan><tspan x="84.5" dy="22.7">的杂交水稻，便成为世界级的发明创造。创新</tspan><tspan x="84.5" dy="22.7">的方法很多，主要的思路就是重组、移植、缩</tspan><tspan x="84.5" dy="22.7">小或者扩大。</tspan></text></g>
<g id="p4b7"><rect class="bx" x="75" y="4668" width="368.7" height="220.9"/><text class="t" x="84.5" y="4694"><tspan x="84.5">在生活中，我们存在着许多苦恼和"不方便"。</tspan><tspan x="84.5" dy="22.7">身体长不高苦恼，身体长胖了苦恼，头发变白</tspan><tspan x="84.5" dy="22.7">了苦恼;在黑板上画椭圆不方便，穿雨衣骑自</tspan><tspan x="84.5" dy="22.7">行车不方便，教学楼白色大理石做清洁卫生不</tspan><tspan x="84.5" dy="22.7">方便。生活中这些苦恼和"不方便"就是我们创</tspan><tspan x="84.5" dy="22.7">新的动力。我们要善于从司空见惯的生活中独</tspan><tspan x="84.5" dy="22.7">具慧眼地发现问题，把握稍纵即逝的"机遇"，</tspan><tspan x="84.5" dy="22.7">积极探索，勇于实践，不断创新，自觉成为知</tspan><tspan x="84.5" dy="22.7">识产权的创造者和拥有者。</tspan></text></g>
<g id="p4b8"><rect class="bx" x="349.7" y="4926.5" width="94" height="39.3"/><text class="t" x="359.2" y="4952.5">谢谢大家!</text></g>
<g id="p6"><rect class="lb" x="668.5" y="5810.6" width="299.8" height="51.4"/><text class="lt" x="818.4" y="5844.4">版权宣传讲话稿范文 第六篇</text></g>
<g id="p6b1"><rect class="bx" x="382.5" y="5004" width="251.8" height="39.3"/><text class="t" x="392" y="5030">亲爱的老师、同学们，大家好!</text></g>
<g id="p6b2"><rect class="bx" x="265.6" y="5081.8" width="368.7" height="152.8"/><text class="t" x="275.1" y="5107.8"><tspan x="275.1">人类已经进入21世纪。在这个充满希望的新</tspan><tspan x="275.1" dy="22.7">世纪，科学技术和文学艺术将高速发展，取得</tspan><tspan x="275.1" dy="22.7">更加辉煌的成就。随着信息社会和知识经济的</tspan><tspan x="275.1" dy="22.7">到来，知识产权保护与经济、技术、文化发展</tspan><tspan x="275.1" dy="22.7">之间的矛盾，发达国家与不发达国家之间的矛</tspan><tspan x="275.1" dy="22.7">盾日益突出。</tspan></text></g>
<g id="p6b3"><rect class="bx" x="265.6" y="5272.5" width="368.7" height="130.1"/><text class="t" x="275.1" y="5298.5"><tspan x="275.1">现在的中国，不再是以前的中国了。它已经是</tspan><tspan x="275.1" dy="22.7">一个闻名于世界的古老的强大的国家，我国的</tspan><tspan x="275.1" dy="22.7">科学技术发展也在迅速进步，但一些优秀的科</tspan><tspan x="275.1" dy="22.7">学知识没有及时注册知识产权，而被其他非法</tspan><tspan x="275.1" dy="22.7">人员盗用，成为他人的作品。</tspan></text></g>
<g id="p6b4"><rect class="bx" x="265.6" y="5441" width="368.7" height="130.1"/><text class="t" x="275.1" y="5467"><tspan x="275.1">面对这种情况，我们非常无奈，非常愤怒。然</tspan><tspan x="275.1" dy="22.7">而，由于我们忽视了这些方面，导致了自己多</tspan><tspan x="275.1" dy="22.7">年的心血送之他人，却不能挽回。也许因为中</tspan><tspan x="275.1" dy="22.7">国是一个发展中国家，人们的知识产权保护意</tspan><tspan x="275.1" dy="22.7">识不强，造成了很多损失。</tspan></text></g>
<g id="p6b5"><rect class="bx" x="265.6" y="5609" width="368.7" height="107.4"/><text class="t" x="275.1" y="5635"><tspan x="275.1">在发达国家，很多知识产权作为国家高度保护</tspan><tspan x="275.1" dy="22.7">的文件，是不向公众开放的，即使是友好邻邦</tspan><tspan x="275.1" dy="22.7">，也必须保密。因为这是国家的利益，关系到</tspan><tspan x="275.1" dy="22.7">国家的发展。</tspan></text></g>
<g id="p6b6"><rect class="bx" x="265.6" y="5753.9" width="368.7" height="107.4"/><text class="t" x="275.1" y="5779.9"><tspan x="275.1">知识产权不是技术先进国家的打狗棒，而是这</tspan><tspan x="275.1" dy="22.7">些国家领先的原因。英国的知识产权保护措施</tspan><tspan x="275.1" dy="22.7">经历了数百年的曲折发展历史，在17、18世纪</tspan><tspan x="275.1" dy="22.7">形成了一个基本的雏形。</tspan></text></g>
<g id="p6b7"><rect class="bx" x="265.6" y="5899.7" width="368.7" height="130.1"/><text class="t" x="275.1" y="5925.7"><tspan x="275.1">英国也是蒸汽机的故乡，也是世界上第一个实</tspan><tspan x="275.1" dy="22.7">现工业革命的国家。英国还是一个从区区一岛</tspan><tspan x="275.1" dy="22.7">崛起于欧洲，在19世纪称霸世界，成为世界</tspan><tspan x="275.1" dy="22.7">上经济最发达的国家之一。曾占有全球1/4土</tspan><tspan x="275.1" dy="22.7">地大不列颠国。</tspan></text></g>
<g id="p6b8"><rect class="bx" x="265.6" y="6068.3" width="368.7" height="107.4"/><text class="t" x="275.1" y="6094.3"><tspan x="275.1">所有这些绝不是历史的巧合，这都是英国的努</tspan><tspan x="275.1" dy="22.7">力。让我们来谈谈美国。美国于1776年宣布</tspan><tspan x="275.1" dy="22.7">从英国独立。在1787年第一部宪法中，制定</tspan><tspan x="275.1" dy="22.7">了相关的知识产权法规。</tspan></text></g>
<g id="p6b9"><rect class="bx" x="265.6" y="6214" width="368.7" height="107.4"/><text class="t" x="275.1" y="6240"><tspan x="275.1">1790年，第一届国会通过了第一部版权法。</tspan><tspan x="275.1" dy="22.7">这是国家为保护知识产权所做的一切努力。正</tspan><tspan x="275.1" dy="22.7">因为如此，现有的国家都把知识产权纳入了法</tspan><tspan x="275.1" dy="22.7">律，最终经济发展迅速，成为世界强国。</tspan></text></g>
<g id="p6b10"><rect class="bx" x="265.6" y="6360" width="368.7" height="84.7"/><text class="t" x="275.1" y="6386"><tspan x="275.1">老师，同学们，让我们也行动起来吧!虽然保</tspan><tspan x="275.1" dy="22.7">护知识产权任重道远，但中国在保护知识产权</tspan><tspan x="275.1" dy="22.7">方面，面临着巨大挑战。</tspan></text></g>
<g id="p6b11"><rect class="bx" x="265.6" y="6483" width="368.7" height="107.4"/><text class="t" x="275.1" y="6509"><tspan x="275.1">总之，知识产权是公众的权利和义务!我们应</tspan><tspan x="275.1" dy="22.7">该保护它。我相信，只要全社会提高知识产权</tspan><tspan x="275.1" dy="22.7">意识，全面保护知识产权，我们的技术创新战</tspan><tspan x="275.1" dy="22.7">略任务一定能够实现!</tspan></text></g>
<g id="p6b12"><rect class="bx" x="540.8" y="6628.4" width="93.5" height="39.3"/><text class="t" x="550.3" y="6654.4">谢谢大家!</text></g>
</g>
</svg>
